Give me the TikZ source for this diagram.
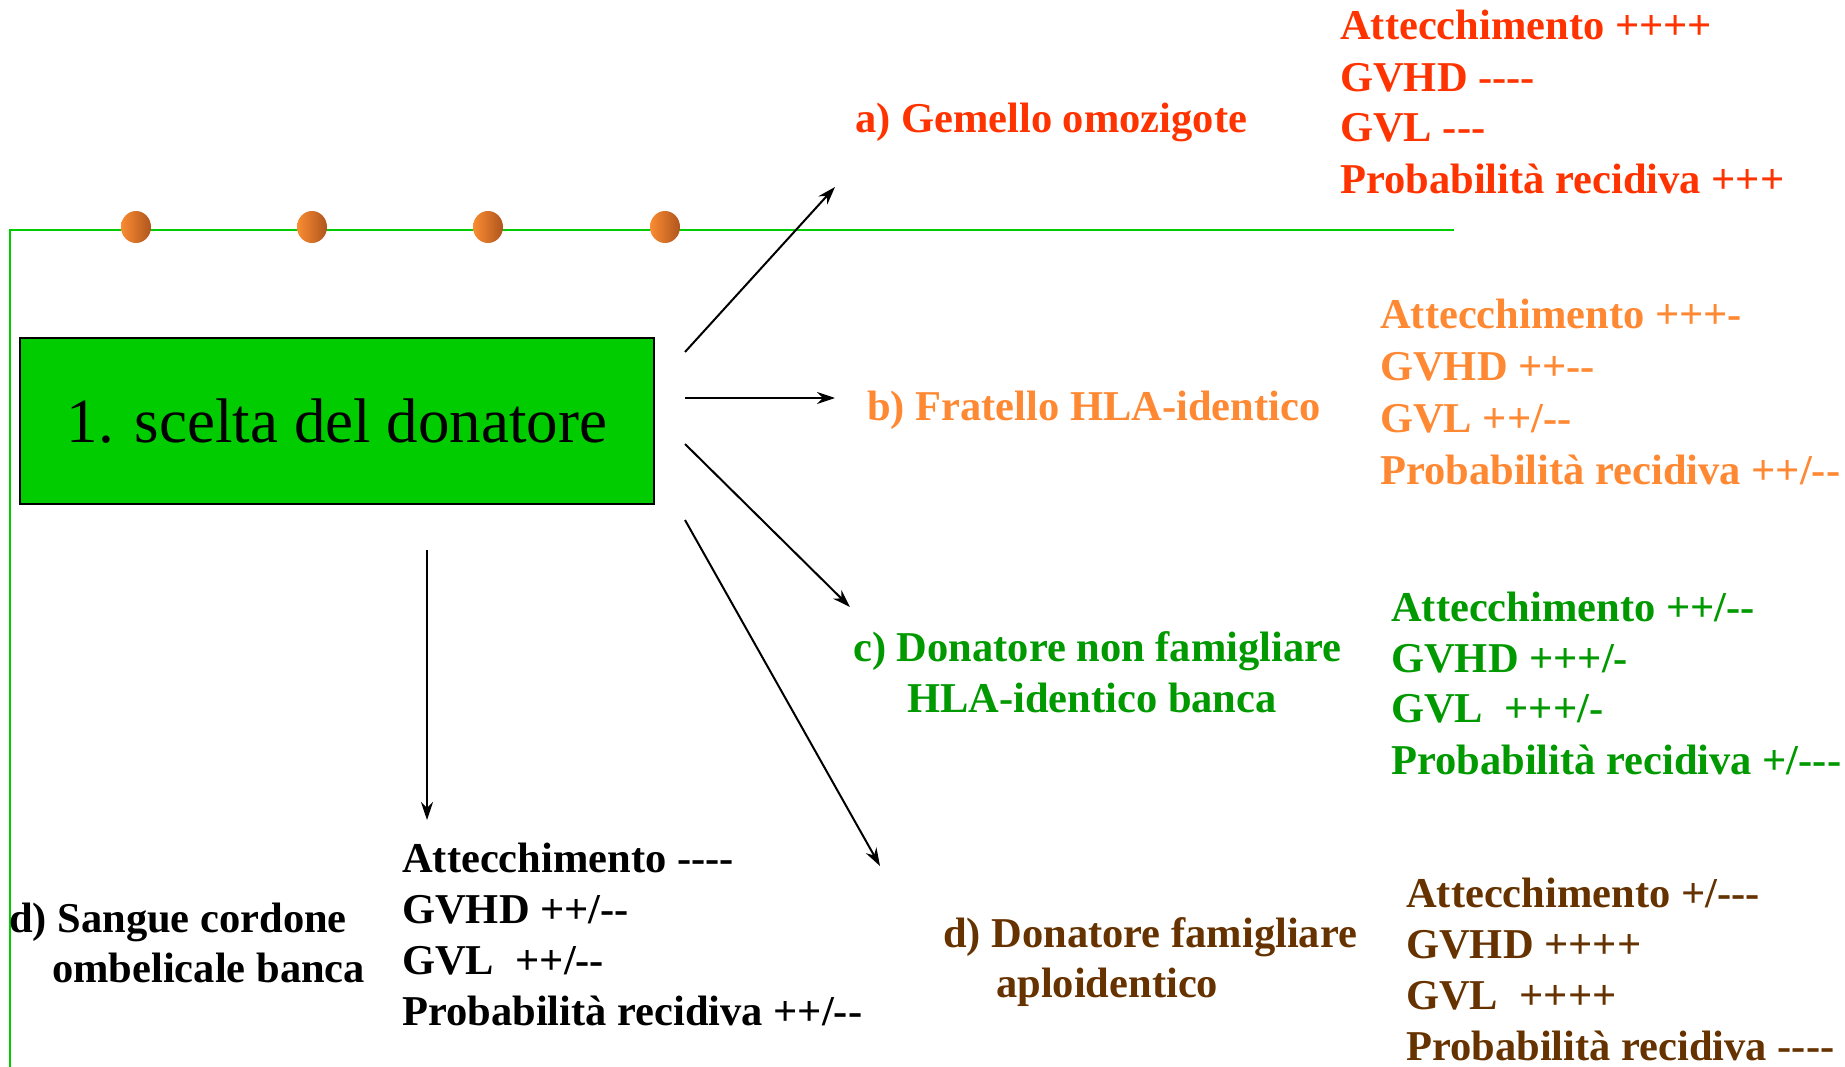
\documentclass[tikz,border=0pt]{standalone}
\usepackage{fontspec}
\setmainfont{Liberation Serif}[Ligatures=TeXOff]
\usetikzlibrary{arrows.meta}
\definecolor{cred}{RGB}{255,51,0}
\definecolor{corange}{RGB}{255,136,51}
\definecolor{cgreen}{RGB}{0,153,0}
\definecolor{cbrown}{RGB}{102,51,0}
\definecolor{lgreen}{RGB}{0,204,0}
\definecolor{dotl}{RGB}{250,140,50}
\definecolor{dotr}{RGB}{175,85,30}
\tikzset{
  lbl/.style={anchor=base west, inner sep=0pt, font=\fontsize{42.5}{51}\selectfont\bfseries},
  conn/.style={line width=2pt, -{Stealth[length=18pt,width=12pt]}},
  mainbox/.style={draw=black, line width=1.5pt, fill=lgreen, minimum width=634pt, minimum height=166pt, inner sep=0pt, font=\fontsize{63}{70}\selectfont},
  frame/.style={draw=lgreen, line width=2pt}
}
\begin{document}
\begin{tikzpicture}[x=1pt,y=-1pt]
\useasboundingbox (0,0) rectangle (1845,1067);
% frame lines
\draw[frame] (1454,230) -- (10,230) -- (10,1067);
% dots
\foreach \x in {136,312,488,665}
  \shade[left color=dotl, right color=dotr] (\x,227) ellipse (15pt and 16pt);
% main box
\node[mainbox] (box) at (337,421) {1. scelta del donatore};
% connector coordinates
\coordinate (sa) at (685,352);
\coordinate (sb) at (685,398);
\coordinate (sc) at (685,444);
\coordinate (sd) at (685,520);
\coordinate (se) at (427,550);
\coordinate (ea) at (835,187);
\coordinate (eb) at (835,398);
\coordinate (ec) at (850,607);
\coordinate (ed) at (880,866);
\coordinate (ee) at (427,820);
\draw[conn] (sa) -- (ea);
\draw[conn] (sb) -- (eb);
\draw[conn] (sc) -- (ec);
\draw[conn] (sd) -- (ed);
\draw[conn] (se) -- (ee);
% a) red
\node[lbl, text=cred] (la) at (855,133) {a) Gemello omozigote};
\node[lbl, text=cred] (a1) at (1340,40) {Attecchimento ++++};
\node[lbl, text=cred] (a2) at (1340,92) {GVHD ----};
\node[lbl, text=cred] (a3) at (1340,142) {GVL ---};
\node[lbl, text=cred] (a4) at (1340,194) {Probabilità recidiva +++};
% b) orange
\node[lbl, text=corange] (lb) at (867,420) {b) Fratello HLA-identico};
\node[lbl, text=corange] (b1) at (1380,329) {Attecchimento +++-};
\node[lbl, text=corange] (b2) at (1380,381) {GVHD ++--};
\node[lbl, text=corange] (b3) at (1380,432) {GVL ++/--};
\node[lbl, text=corange] (b4) at (1380,484) {Probabilità recidiva ++/--};
% c) green
\node[lbl, text=cgreen] (lc1) at (853,661) {c) Donatore non famigliare};
\node[lbl, text=cgreen] (lc2) at (907,712) {HLA-identico banca};
\node[lbl, text=cgreen] (c1) at (1391,621) {Attecchimento ++/--};
\node[lbl, text=cgreen] (c2) at (1391,672) {GVHD +++/-};
\node[lbl, text=cgreen] (c3) at (1391,722) {GVL\ \ +++/-};
\node[lbl, text=cgreen] (c4) at (1391,774) {Probabilità recidiva +/---};
% d) black
\node[lbl, text=black] (ld1) at (9,932) {d) Sangue cordone};
\node[lbl, text=black] (ld2) at (52,982) {ombelicale banca};
\node[lbl, text=black] (d1) at (402,872) {Attecchimento ----};
\node[lbl, text=black] (d2) at (402,923) {GVHD ++/--};
\node[lbl, text=black] (d3) at (402,974) {GVL\ \ ++/--};
\node[lbl, text=black] (d4) at (402,1025) {Probabilità recidiva ++/--};
% d) brown
\node[lbl, text=cbrown] (le1) at (943,947) {d) Donatore famigliare};
\node[lbl, text=cbrown] (le2) at (996,997) {aploidentico};
\node[lbl, text=cbrown] (e1) at (1406,907) {Attecchimento +/---};
\node[lbl, text=cbrown] (e2) at (1406,958) {GVHD ++++};
\node[lbl, text=cbrown] (e3) at (1406,1009) {GVL\ \ ++++};
\node[lbl, text=cbrown] (e4) at (1406,1060) {Probabilità recidiva ----};
\end{tikzpicture}
\end{document}
